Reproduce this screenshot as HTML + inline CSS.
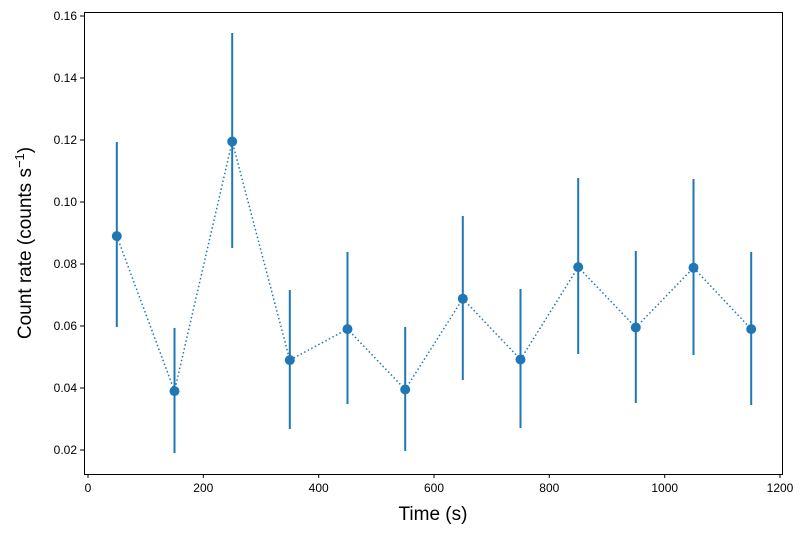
<!DOCTYPE html>
<html><head><meta charset="utf-8"><style>body{margin:0;background:#fff}svg{display:block;font-family:"Liberation Sans","DejaVu Sans",sans-serif}</style></head>
<body>
<svg width="806" height="533" viewBox="0 0 806 533" xmlns="http://www.w3.org/2000/svg">
<rect width="806" height="533" fill="#fff"/>
<g stroke="#000" stroke-width="1">
<line x1="88" y1="474" x2="88" y2="478"/><line x1="203.3" y1="474" x2="203.3" y2="478"/><line x1="318.7" y1="474" x2="318.7" y2="478"/><line x1="434" y1="474" x2="434" y2="478"/><line x1="549.3" y1="474" x2="549.3" y2="478"/><line x1="664.7" y1="474" x2="664.7" y2="478"/><line x1="780" y1="474" x2="780" y2="478"/>
<line x1="80" y1="16" x2="84" y2="16"/><line x1="80" y1="78" x2="84" y2="78"/><line x1="80" y1="140" x2="84" y2="140"/><line x1="80" y1="202" x2="84" y2="202"/><line x1="80" y1="264" x2="84" y2="264"/><line x1="80" y1="326" x2="84" y2="326"/><line x1="80" y1="388" x2="84" y2="388"/><line x1="80" y1="450" x2="84" y2="450"/>
</g>
<g font-size="12" fill="#000" text-anchor="middle">
<text x="88" y="492">0</text><text x="203.3" y="492">200</text><text x="318.7" y="492">400</text><text x="434" y="492">600</text><text x="549.3" y="492">800</text><text x="664.7" y="492">1000</text><text x="780" y="492">1200</text>
</g>
<g font-size="12" fill="#000" text-anchor="end">
<text x="77" y="20">0.16</text><text x="77" y="82">0.14</text><text x="77" y="144">0.12</text><text x="77" y="206">0.10</text><text x="77" y="268">0.08</text><text x="77" y="330">0.06</text><text x="77" y="392">0.04</text><text x="77" y="454">0.02</text>
</g>
<text x="433" y="520" font-size="19" text-anchor="middle">Time (s)</text>
<text transform="translate(31,243) rotate(-90)" font-size="19" text-anchor="middle">Count rate (counts s<tspan dy="-7" font-size="13">−1</tspan><tspan dy="7">)</tspan></text>
<g stroke="#1f77b4" stroke-width="2">
<line x1="116.8" y1="142" x2="116.8" y2="327"/><line x1="174.5" y1="328" x2="174.5" y2="453"/><line x1="232.2" y1="33" x2="232.2" y2="248"/><line x1="289.8" y1="290" x2="289.8" y2="429"/><line x1="347.5" y1="252" x2="347.5" y2="404"/><line x1="405.2" y1="327" x2="405.2" y2="451"/><line x1="462.8" y1="216" x2="462.8" y2="380"/><line x1="520.5" y1="289" x2="520.5" y2="428"/><line x1="578.2" y1="178" x2="578.2" y2="354"/><line x1="635.8" y1="251" x2="635.8" y2="403"/><line x1="693.5" y1="179" x2="693.5" y2="355"/><line x1="751.2" y1="252" x2="751.2" y2="405"/>
</g>
<polyline fill="none" stroke="#1f77b4" stroke-width="1.5" stroke-dasharray="1.5,2.5" points="116.8,236.1 174.5,391.1 232.2,141.5 289.8,360.1 347.5,329.1 405.2,389.5 462.8,298.7 520.5,359.5 578.2,267.1 635.8,327.5 693.5,267.7 751.2,329.1"/>
<g fill="#1f77b4">
<circle cx="116.8" cy="236.1" r="5"/><circle cx="174.5" cy="391.1" r="5"/><circle cx="232.2" cy="141.5" r="5"/><circle cx="289.8" cy="360.1" r="5"/><circle cx="347.5" cy="329.1" r="5"/><circle cx="405.2" cy="389.5" r="5"/><circle cx="462.8" cy="298.7" r="5"/><circle cx="520.5" cy="359.5" r="5"/><circle cx="578.2" cy="267.1" r="5"/><circle cx="635.8" cy="327.5" r="5"/><circle cx="693.5" cy="267.7" r="5"/><circle cx="751.2" cy="329.1" r="5"/>
</g>
<rect x="84.5" y="12.5" width="698" height="462" fill="none" stroke="#000" stroke-width="1"/>
</svg>
</body></html>
